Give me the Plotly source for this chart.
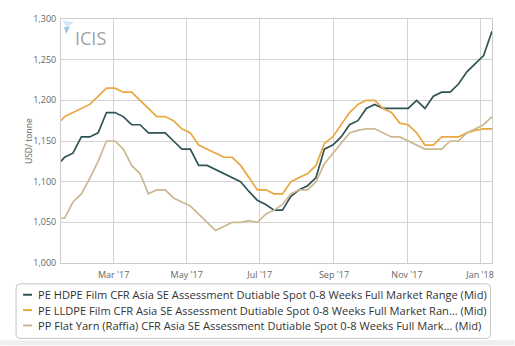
import pandas as pd
import plotly.graph_objects as go

# ---------------- data ----------------
first_date = "2017-01-16"
weekly_dates = pd.date_range("2017-01-19", "2018-01-11", freq="7D")
dates = [pd.Timestamp(first_date)] + list(weekly_dates)

series_names = [
    "PE HDPE Film CFR Asia SE Assessment Dutiable Spot 0-8 Weeks Full Market Range (Mid)",
    "PE LLDPE Film CFR Asia SE Assessment Dutiable Spot 0-8 Weeks Full Market Ran... (Mid)",
    "PP Flat Yarn (Raffia) CFR Asia SE Assessment Dutiable Spot 0-8 Weeks Full Mark... (Mid)",
]

hdpe = [1125, 1130, 1135, 1155, 1155, 1160, 1185, 1185, 1180, 1170,
        1170, 1160, 1160, 1160, 1150, 1140, 1140, 1120, 1120, 1115,
        1110, 1105, 1100, 1088, 1077, 1072, 1065, 1065, 1082, 1090,
        1095, 1105, 1140, 1145, 1155, 1170, 1175, 1190, 1195, 1190,
        1190, 1190, 1190, 1200, 1190, 1205, 1210, 1210, 1220, 1235,
        1245, 1255, 1285]

lldpe = [1175, 1180, 1185, 1190, 1195, 1205, 1215, 1215, 1210, 1210,
         1200, 1190, 1180, 1180, 1175, 1165, 1160, 1145, 1140, 1135,
         1130, 1130, 1120, 1105, 1090, 1090, 1085, 1085, 1100, 1105,
         1110, 1120, 1147, 1155, 1170, 1185, 1195, 1200, 1200, 1190,
         1185, 1172, 1170, 1160, 1145, 1145, 1155, 1155, 1155, 1160,
         1163, 1165, 1165]

pp = [1055, 1055, 1075, 1085, 1104, 1125, 1150, 1150, 1140, 1120,
      1110, 1085, 1090, 1090, 1080, 1075, 1070, 1060, 1050, 1040,
      1045, 1050, 1050, 1052, 1050, 1060, 1065, 1072, 1085, 1090,
      1090, 1100, 1122, 1135, 1148, 1160, 1163, 1165, 1165, 1160,
      1155, 1155, 1150, 1145, 1140, 1140, 1140, 1150, 1150, 1160,
      1165, 1170, 1180]

x_tick_vals = ["2017-03-01", "2017-05-01", "2017-07-01", "2017-09-01", "2017-11-01", "2018-01-01"]
x_tick_text = ["Mar '17", "May '17", "Jul '17", "Sep '17", "Nov '17", "Jan '18"]
y_tick_vals = [1000, 1050, 1100, 1150, 1200, 1250, 1300]

colors = ["#2f5356", "#e8a73f", "#cbb891"]
all_series = [hdpe, lldpe, pp]

# ---------------- layout geometry (pixels) ----------------
W, H = 515, 346
PL, PR, PT, PB = 61, 492.5, 17, 263
FONT = "Open Sans, DejaVu Sans, sans-serif"


def px(xp):
    return (xp - PL) / (PR - PL)


def py(yp):
    return (PB - yp) / (PB - PT)


fig = go.Figure()
for name, vals, col in zip(series_names, all_series, colors):
    fig.add_trace(go.Scatter(x=dates, y=vals, mode="lines", name=name,
                             line=dict(color=col, width=1.7), showlegend=False))

fig.update_layout(
    width=W, height=H,
    margin=dict(l=PL, r=W - PR, t=PT, b=H - PB),
    paper_bgcolor="white", plot_bgcolor="white",
    font=dict(family=FONT, size=9, color="#666666"),
    showlegend=False,
)
fig.update_xaxes(
    type="date", range=[dates[0], dates[-1]],
    tickvals=x_tick_vals, ticktext=x_tick_text,
    showgrid=True, gridcolor="#d3d3d3", gridwidth=1,
    showline=True, linecolor="#cccccc", linewidth=1, mirror=True,
    ticks="outside", ticklen=3, tickcolor="rgba(0,0,0,0)",
    tickfont=dict(size=9, color="#666666"), zeroline=False,
)
fig.update_yaxes(
    range=[1000, 1300], tickvals=y_tick_vals, tickformat=",",
    showgrid=True, gridcolor="#d3d3d3", gridwidth=1,
    showline=True, linecolor="#cccccc", linewidth=1, mirror=True,
    ticks="outside", ticklen=2, tickcolor="rgba(0,0,0,0)",
    tickfont=dict(size=9, color="#666666"), zeroline=False,
)

annotations = []
shapes = []

# y-axis title
annotations.append(dict(text="USD/ tonne", xref="paper", yref="paper",
                        x=px(28), y=py(140), xanchor="center", yanchor="middle",
                        textangle=-90, showarrow=False,
                        font=dict(size=8.5, color="#666666", family=FONT)))

# ICIS watermark
annotations.append(dict(text="ICIS", xref="paper", yref="paper",
                        x=px(73), y=py(36), xanchor="left", yanchor="middle",
                        showarrow=False,
                        font=dict(size=18, color="#9ea3a8", family=FONT)))
# logo triangles
shapes.append(dict(type="path", xref="paper", yref="paper",
                   path=f"M {px(62.5)},{py(18.5)} L {px(74)},{py(20)} L {px(67)},{py(26)} Z",
                   fillcolor="#d6e8f3", line=dict(width=0)))
shapes.append(dict(type="path", xref="paper", yref="paper",
                   path=f"M {px(64)},{py(25)} L {px(70)},{py(25)} L {px(66)},{py(32)} Z",
                   fillcolor="#9cc8e4", line=dict(width=0)))

# custom legend box
lx0, lx1, ly0, ly1, r = 16, 491, 284, 339, 4
path = (f"M {px(lx0 + r)},{py(ly0)} L {px(lx1 - r)},{py(ly0)} "
        f"Q {px(lx1)},{py(ly0)} {px(lx1)},{py(ly0 + r)} "
        f"L {px(lx1)},{py(ly1 - r)} Q {px(lx1)},{py(ly1)} {px(lx1 - r)},{py(ly1)} "
        f"L {px(lx0 + r)},{py(ly1)} Q {px(lx0)},{py(ly1)} {px(lx0)},{py(ly1 - r)} "
        f"L {px(lx0)},{py(ly0 + r)} Q {px(lx0)},{py(ly0)} {px(lx0 + r)},{py(ly0)} Z")
shapes.append(dict(type="path", xref="paper", yref="paper", path=path,
                   line=dict(color="#c4c4c4", width=1), fillcolor="white"))
row_y = [295, 310.5, 326]
for name, col, ry in zip(series_names, colors, row_y):
    shapes.append(dict(type="line", xref="paper", yref="paper",
                       x0=px(23), x1=px(32), y0=py(ry), y1=py(ry),
                       line=dict(color=col, width=2)))
    annotations.append(dict(text=name, xref="paper", yref="paper",
                            x=px(36), y=py(ry), xanchor="left", yanchor="middle",
                            showarrow=False,
                            font=dict(size=11.1, color="#333333", family=FONT)))

# bottom grey band
shapes.append(dict(type="rect", xref="paper", yref="paper",
                   x0=px(0), x1=px(W), y0=py(341), y1=py(H),
                   fillcolor="#eeeeee", line=dict(width=0), layer="below"))

fig.update_layout(annotations=annotations, shapes=shapes)
fig.write_html("out.html")
